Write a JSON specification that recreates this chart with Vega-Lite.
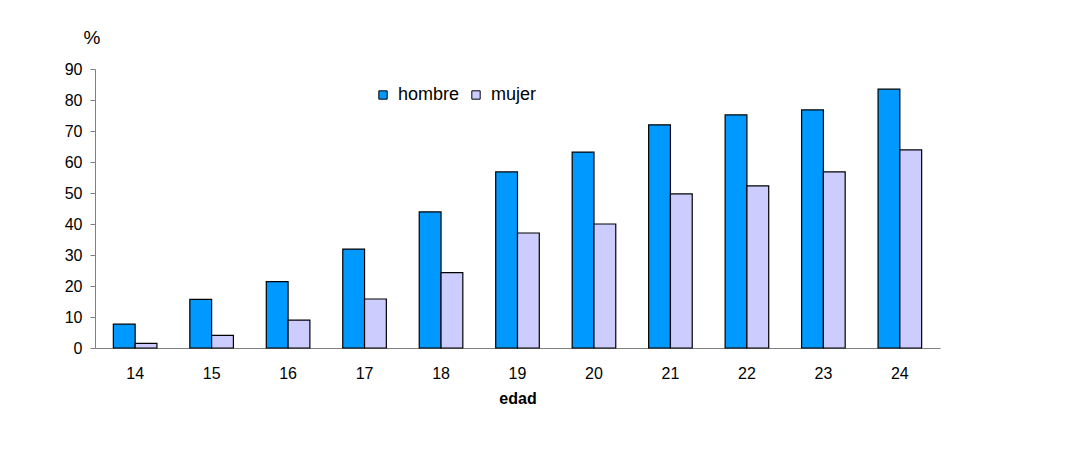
{
  "$schema": "https://vega.github.io/schema/vega-lite/v6.json",
  "width": 845,
  "height": 279,
  "autosize": {"type": "none"},
  "padding": {"left": 95, "top": 69, "right": 141, "bottom": 113},
  "background": "white",
  "config": {
    "view": {"stroke": null},
    "font": "Liberation Sans",
    "axis": {"domainColor": "#808080", "tickColor": "#808080", "labelColor": "black", "labelFont": "Liberation Sans", "titleFont": "Liberation Sans", "grid": false}
  },
  "data": {
    "values": [
      {"edad": "14", "sexo": "hombre", "pct": 7.7},
      {"edad": "14", "sexo": "mujer", "pct": 1.5},
      {"edad": "15", "sexo": "hombre", "pct": 15.7},
      {"edad": "15", "sexo": "mujer", "pct": 4.1},
      {"edad": "16", "sexo": "hombre", "pct": 21.4},
      {"edad": "16", "sexo": "mujer", "pct": 9.0},
      {"edad": "17", "sexo": "hombre", "pct": 31.9},
      {"edad": "17", "sexo": "mujer", "pct": 15.8},
      {"edad": "18", "sexo": "hombre", "pct": 43.9},
      {"edad": "18", "sexo": "mujer", "pct": 24.3},
      {"edad": "19", "sexo": "hombre", "pct": 56.8},
      {"edad": "19", "sexo": "mujer", "pct": 37.1},
      {"edad": "20", "sexo": "hombre", "pct": 63.2},
      {"edad": "20", "sexo": "mujer", "pct": 40.0},
      {"edad": "21", "sexo": "hombre", "pct": 72.0},
      {"edad": "21", "sexo": "mujer", "pct": 49.7},
      {"edad": "22", "sexo": "hombre", "pct": 75.2},
      {"edad": "22", "sexo": "mujer", "pct": 52.3},
      {"edad": "23", "sexo": "hombre", "pct": 76.8},
      {"edad": "23", "sexo": "mujer", "pct": 56.8},
      {"edad": "24", "sexo": "hombre", "pct": 83.5},
      {"edad": "24", "sexo": "mujer", "pct": 63.9}
    ]
  },
  "mark": {"type": "bar", "stroke": "black", "strokeWidth": 1.2},
  "encoding": {
    "x": {
      "field": "edad",
      "type": "ordinal",
      "scale": {"paddingInner": 0.43, "paddingOuter": 0.24},
      "axis": {"title": "edad", "titleFontWeight": "bold", "titleFontSize": 16, "titlePadding": 9, "labelAngle": 0, "ticks": false, "labelPadding": 17, "labelFontSize": 16}
    },
    "xOffset": {"field": "sexo", "type": "nominal", "sort": ["hombre", "mujer"]},
    "y": {
      "field": "pct",
      "type": "quantitative",
      "scale": {"domain": [0, 90], "nice": false},
      "axis": {"title": "%", "titleAngle": 0, "titleX": -12, "titleY": -22, "titleAlign": "left", "titleFontWeight": "normal", "titleFontSize": 19, "values": [0, 10, 20, 30, 40, 50, 60, 70, 80, 90], "tickSize": 5, "labelPadding": 8, "labelFontSize": 16}
    },
    "color": {
      "field": "sexo",
      "type": "nominal",
      "scale": {"domain": ["hombre", "mujer"], "range": ["#0099FF", "#CCCCFF"]},
      "legend": {"title": null, "orient": "none", "legendX": 279, "legendY": 17, "direction": "horizontal", "symbolType": "square", "symbolSize": 70, "symbolStrokeColor": "black", "symbolStrokeWidth": 1, "symbolOpacity": 1, "labelFontSize": 18, "columnPadding": 7, "labelOffset": 6}
    }
  }
}
